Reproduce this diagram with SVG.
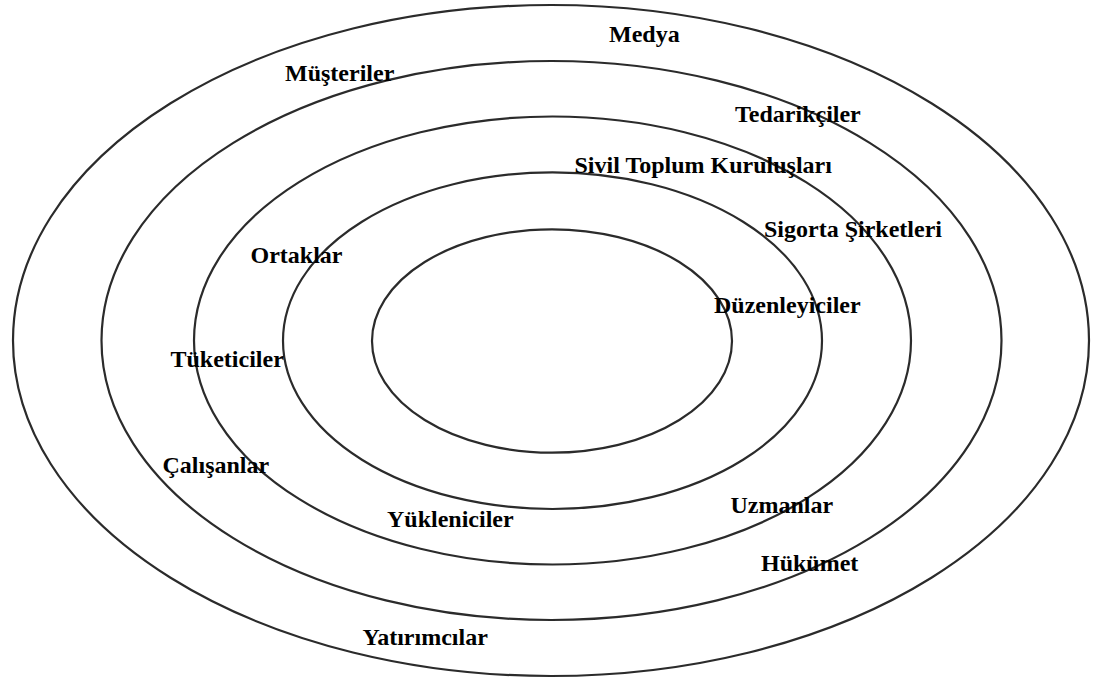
<svg xmlns="http://www.w3.org/2000/svg" width="1096" height="681" viewBox="0 0 1096 681">
<style>
.ring{fill:none;stroke:#2b2b2b;stroke-width:2.2}
.lbl{font-family:"Liberation Serif","Times New Roman",serif;font-weight:bold;font-size:24px;fill:#000}
</style>
<rect width="1096" height="681" fill="#fff"/>
<g id="rings">
<g id="ring1"><ellipse class="ring" cx="551" cy="340.5" rx="538" ry="335.5"/></g>
<g id="ring2"><ellipse class="ring" cx="551.5" cy="340.5" rx="450" ry="279.5"/></g>
<g id="ring3"><ellipse class="ring" cx="552.5" cy="340.5" rx="358.5" ry="224"/></g>
<g id="ring4"><ellipse class="ring" cx="552.5" cy="340.7" rx="269.5" ry="168.3"/></g>
<g id="ring5"><ellipse class="ring" cx="552" cy="341" rx="180" ry="111.7"/></g>
</g>
<g id="labels">
<text id="medya" class="lbl" x="609" y="42">Medya</text>
<text id="musteriler" class="lbl" x="285" y="81">Müşteriler</text>
<text id="tedarikciler" class="lbl" x="735" y="122">Tedarikçiler</text>
<text id="stk" class="lbl" x="574.5" y="173">Sivil Toplum Kuruluşları</text>
<text id="sigorta" class="lbl" x="764" y="237">Sigorta Şirketleri</text>
<text id="ortaklar" class="lbl" x="250.5" y="263">Ortaklar</text>
<text id="duzenleyiciler" class="lbl" x="714" y="313">Düzenleyiciler</text>
<text id="tuketiciler" class="lbl" x="170.5" y="367">Tüketiciler</text>
<text id="calisanlar" class="lbl" x="162.5" y="473">Çalışanlar</text>
<text id="uzmanlar" class="lbl" x="730.5" y="513">Uzmanlar</text>
<text id="yukleniciler" class="lbl" x="387" y="527">Yükleniciler</text>
<text id="hukumet" class="lbl" x="761" y="571">Hükümet</text>
<text id="yatirimcilar" class="lbl" x="362.5" y="645">Yatırımcılar</text>
</g>
</svg>
